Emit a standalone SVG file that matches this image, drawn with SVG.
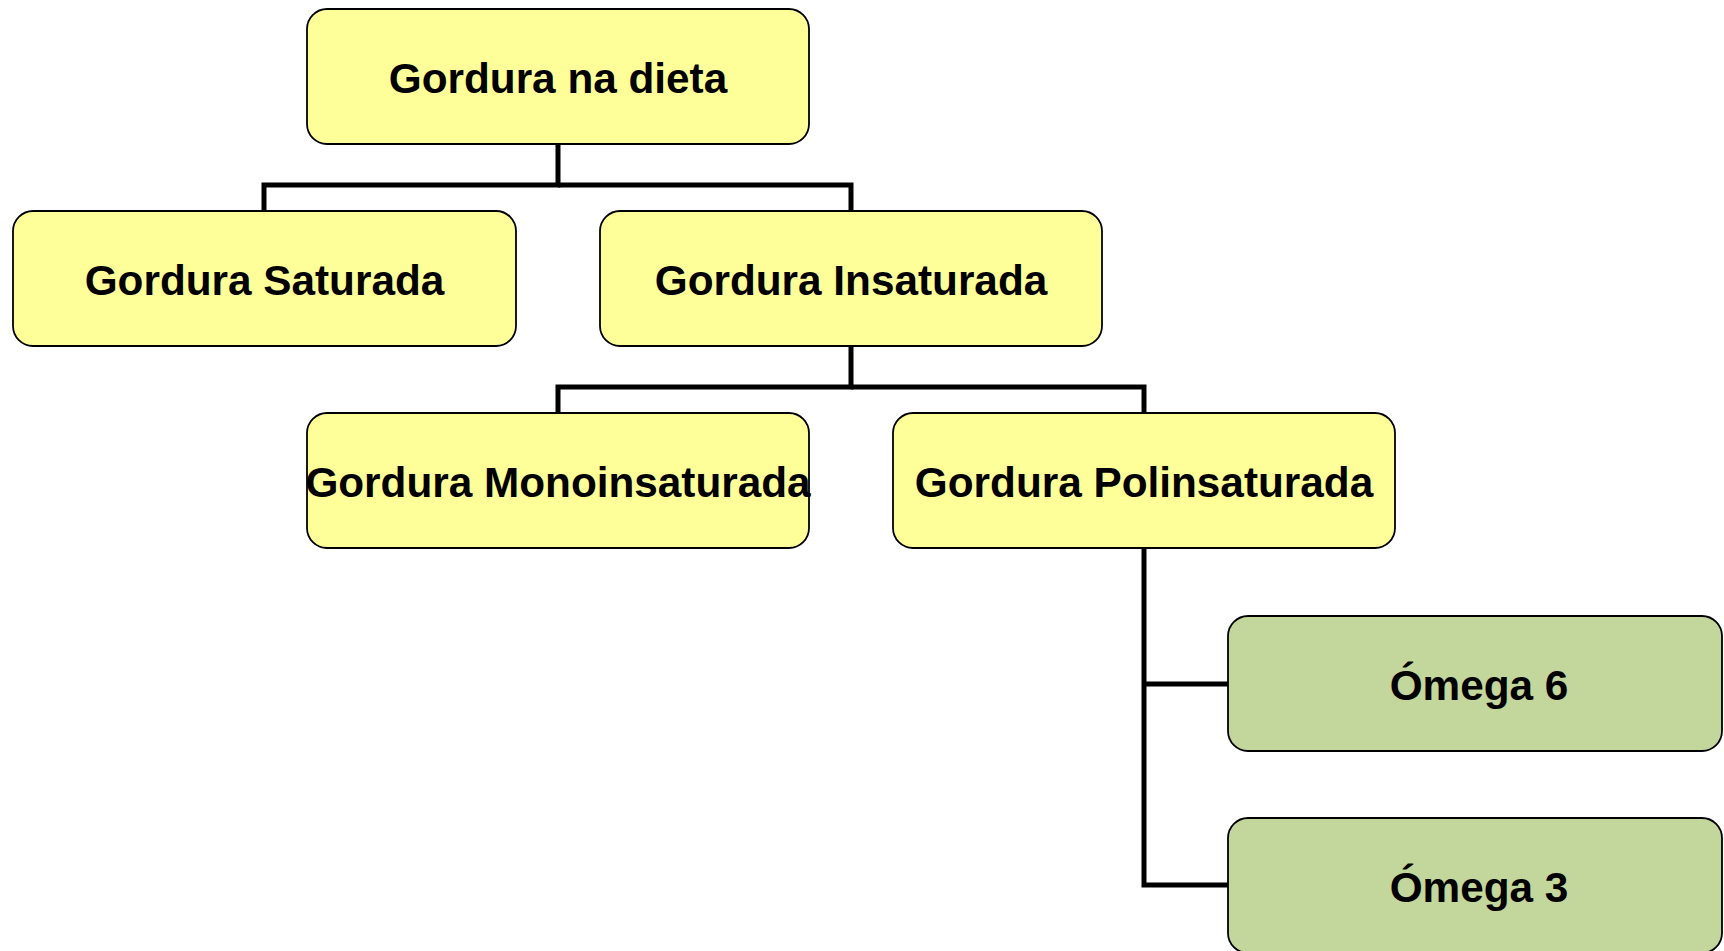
<svg xmlns="http://www.w3.org/2000/svg" width="1724" height="951" viewBox="0 0 1724 951">
<style>
.box{stroke:#000;stroke-width:1.8}
.y{fill:#FFFF99}
.g{fill:#C3D69B}
.t{font-family:"Liberation Sans",Arial,sans-serif;font-weight:bold;font-size:42.3px;fill:#000;text-anchor:middle}
.c{fill:none;stroke:#000;stroke-width:5;stroke-linejoin:miter}
</style>
<rect width="1724" height="951" fill="#fff"/>
<g id="connectors">
<polyline class="c" points="558,144 558,185 264,185 264,211"/>
<polyline class="c" points="558,185 851,185 851,211"/>
<polyline class="c" points="851,346 851,387 558,387 558,413"/>
<polyline class="c" points="851,387 1144,387 1144,413"/>
<polyline class="c" points="1144,548 1144,885 1228,885"/>
<polyline class="c" points="1144,684 1228,684"/>
</g>
<g id="n-root"><rect class="box y" x="307" y="9" width="502" height="135" rx="20"/><text class="t" x="558" y="93">Gordura na dieta</text></g>
<g id="n-sat"><rect class="box y" x="13" y="211" width="503" height="135" rx="20"/><text class="t" x="264.5" y="295">Gordura Saturada</text></g>
<g id="n-ins"><rect class="box y" x="600" y="211" width="502" height="135" rx="20"/><text class="t" x="851" y="295">Gordura Insaturada</text></g>
<g id="n-mono"><rect class="box y" x="307" y="413" width="502" height="135" rx="20"/><text class="t" x="558" y="497">Gordura Monoinsaturada</text></g>
<g id="n-poli"><rect class="box y" x="893" y="413" width="502" height="135" rx="20"/><text class="t" x="1144" y="497">Gordura Polinsaturada</text></g>
<g id="n-o6"><rect class="box g" x="1228" y="616" width="494" height="135" rx="20"/><text class="t" x="1479" y="700">Ómega 6</text></g>
<g id="n-o3"><rect class="box g" x="1228" y="818" width="494" height="135" rx="20"/><text class="t" x="1479" y="902">Ómega 3</text></g>
</svg>
